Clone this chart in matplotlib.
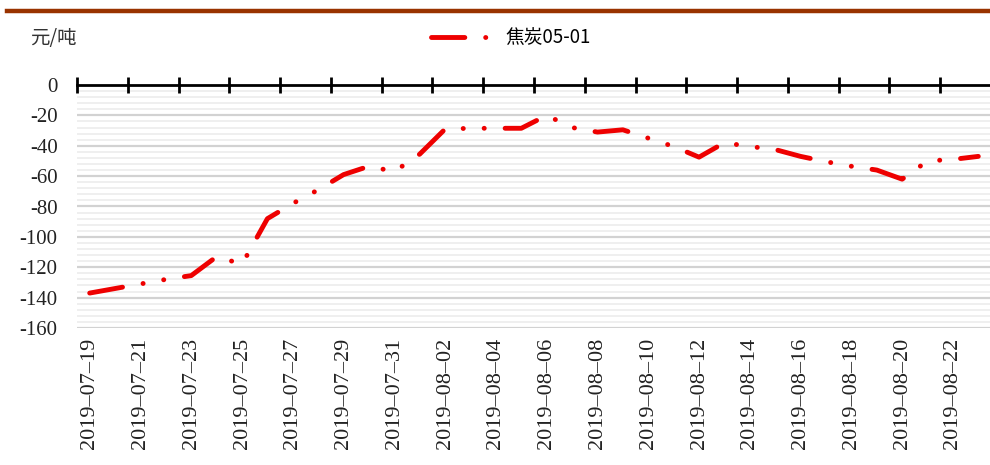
import matplotlib
matplotlib.use("Agg")
import matplotlib.pyplot as plt
from matplotlib.ticker import MultipleLocator, FixedLocator
from matplotlib.lines import Line2D

plt.rcParams['lines.scale_dashes'] = False

dates = ["2019-07-19", "2019-07-20", "2019-07-21", "2019-07-22", "2019-07-23", "2019-07-24",
         "2019-07-25", "2019-07-26", "2019-07-27", "2019-07-28", "2019-07-29", "2019-07-30",
         "2019-07-31", "2019-08-01", "2019-08-02", "2019-08-03", "2019-08-04", "2019-08-05",
         "2019-08-06", "2019-08-07", "2019-08-08", "2019-08-09", "2019-08-10", "2019-08-11",
         "2019-08-12", "2019-08-13", "2019-08-14", "2019-08-15", "2019-08-16", "2019-08-17",
         "2019-08-18", "2019-08-19", "2019-08-20", "2019-08-21", "2019-08-22", "2019-08-23"]
spread = [-137, -134, -131, -128, -125.5, -113,
          -118, -88, -78, -69, -59, -53.5,
          -57, -45.5, -29, -28.5, -28.5, -28.5,
          -20, -28, -31, -29.5, -35, -40.5,
          -47.5, -38, -40.5, -42.5, -47, -50.5,
          -53.5, -56, -62, -50, -49, -47]
series_name = "焦炭05-01"
unit_label = "元/吨"
yticks = [0, -20, -40, -60, -80, -100, -120, -140, -160]

W, H = 990, 465
fig = plt.figure(figsize=(W / 100, H / 100), dpi=100)
left, right, top, bottom = 77, 991, 85, 328
ax = fig.add_axes([left / W, 1 - bottom / H, (right - left) / W, (bottom - top) / H])

red = "#ee0000"
dash = (0, (24.0, 15.0, 0.1, 15.0, 0.1, 15.0))
lw = 3.5
ax.plot(dates, spread, color=red, lw=lw, linestyle=dash,
        dash_capstyle="round", solid_capstyle="round", zorder=3, clip_on=False)

n = len(dates)
ax.set_xlim(-0.5, n - 0.5)
ax.set_ylim(-160, 0)

# grid
ax.yaxis.set_major_locator(FixedLocator(yticks))
ax.yaxis.set_minor_locator(MultipleLocator(4))
ax.grid(axis="y", which="major", color="#d2d2d2", lw=1.6)
ax.grid(axis="y", which="minor", color="#ececec", lw=1.2)
ax.set_axisbelow(True)
ax.xaxis.set_zorder(2)

for s in ["left", "right", "bottom"]:
    ax.spines[s].set_visible(False)
ax.spines["top"].set_color("black")
ax.spines["top"].set_linewidth(2.0)

ax.tick_params(axis="y", which="both", length=0, pad=14)
ax.set_yticklabels([str(v) for v in yticks], family="Liberation Serif", fontsize=15, color="#222222")

ax.set_xticks(range(0, n, 2))
ax.set_xticklabels([dates[i].replace("-", "\u2013") for i in range(0, n, 2)], rotation=90,
                   family="Liberation Serif", fontsize=16, color="#222222")
ax.tick_params(axis="x", which="major", length=0, pad=7)

# category-boundary tick marks on the zero line
ax.xaxis.set_minor_locator(FixedLocator([i - 0.5 for i in range(0, n, 2)]))
ax.tick_params(axis="x", which="minor", bottom=False, top=True, direction="inout",
               length=12, width=2.0, color="black")

# unit label
fig.text(30 / W, 1 - 38 / H, unit_label, family=["Noto Sans CJK SC", "DejaVu Sans"],
         fontsize=14, color="#333333", va="center", ha="left")

# legend
handle = Line2D([], [], color=red, lw=lw, linestyle=dash, dash_capstyle="round")
fig.legend([handle], [series_name], loc="center left", bbox_to_anchor=(414 / W, 1 - 38 / H),
           frameon=False, handlelength=3.8, handletextpad=0.2,
           prop={"family": ["Noto Sans CJK SC", "DejaVu Sans"], "size": 13.5})

# header rule
fig.add_artist(Line2D([7 / W, 1.0], [1 - 11 / H, 1 - 11 / H], color="#993300", lw=3.2))

fig.savefig("out.png", dpi=100)
